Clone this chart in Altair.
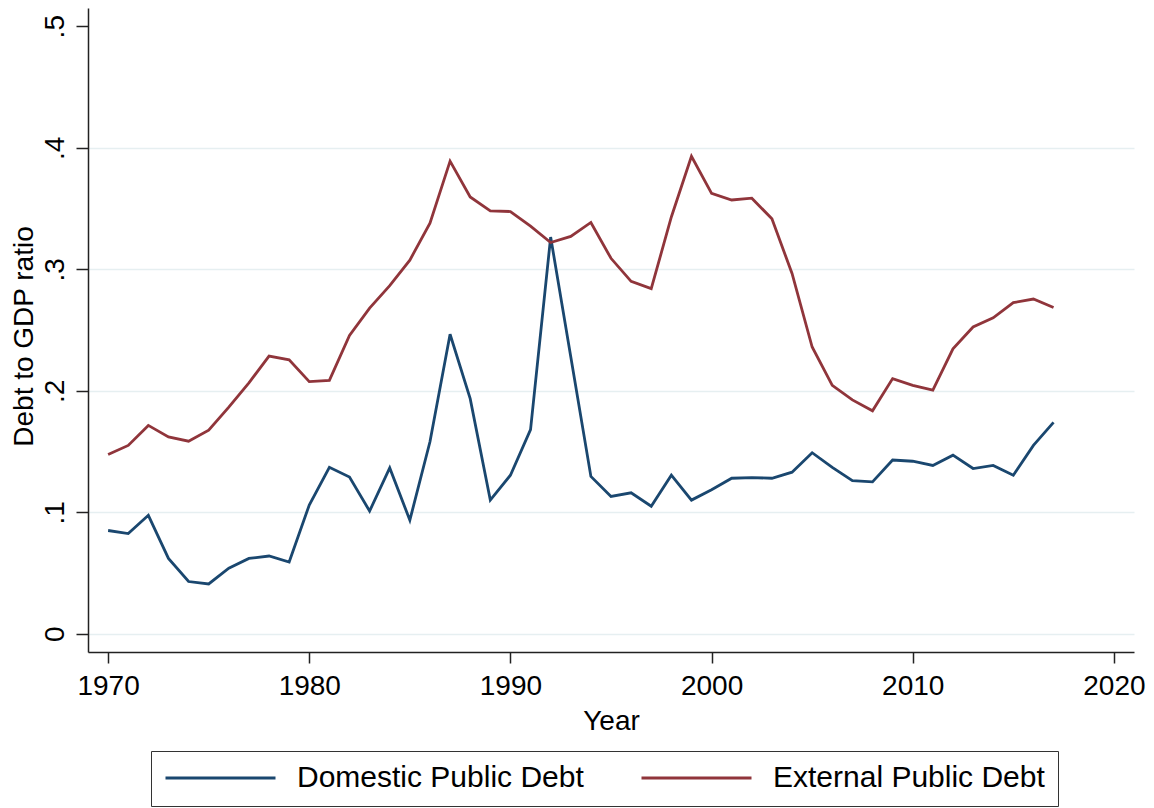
import altair as alt
import pandas as pd

years = list(range(1970, 2018))

domestic = [0.085, 0.0825, 0.0975, 0.062, 0.043, 0.041, 0.054, 0.062, 0.064, 0.059,
            0.106, 0.137, 0.129, 0.101, 0.1365, 0.0935, 0.158, 0.2465, 0.1935, 0.110,
            0.1305, 0.168, 0.3265, 0.228, 0.1295, 0.113, 0.116, 0.105, 0.1305, 0.110,
            0.1185, 0.128, 0.1285, 0.128, 0.133, 0.149, 0.137, 0.126, 0.125, 0.143,
            0.142, 0.1385, 0.147, 0.136, 0.1385, 0.1305, 0.155, 0.174]

external = [0.1475, 0.155, 0.1715, 0.162, 0.1585, 0.1675, 0.1865, 0.2065, 0.2285, 0.2255,
            0.2075, 0.2085, 0.2455, 0.268, 0.2865, 0.3075, 0.338, 0.389, 0.3595, 0.348,
            0.3475, 0.3355, 0.322, 0.327, 0.3385, 0.309, 0.29, 0.284, 0.343, 0.393,
            0.3625, 0.357, 0.3585, 0.3415, 0.2965, 0.236, 0.2045, 0.1925, 0.1835, 0.21,
            0.2045, 0.2005, 0.2345, 0.2525, 0.26, 0.2725, 0.2755, 0.2685]

series = ["Domestic Public Debt", "External Public Debt"]
colors = ["#1a476f", "#90353b"]

x_ticks = [1970, 1980, 1990, 2000, 2010, 2020]
y_ticks = [0, 0.1, 0.2, 0.3, 0.4, 0.5]

df = pd.concat([
    pd.DataFrame({"year": years, "ratio": domestic, "series": series[0]}),
    pd.DataFrame({"year": years, "ratio": external, "series": series[1]}),
])

FONT = "Liberation Sans"

x_scale = alt.Scale(domain=[1969, 2021], nice=False, zero=False)
y_scale = alt.Scale(domain=[-0.015, 0.515], nice=False, zero=False)

# stata-like legend: equal columns, a bit of room after the last label
legend = alt.Legend(title=None, orient="none", legendX=63, legendY=743,
                    columns=2, columnPadding=56, gridAlign="all",
                    symbolType="stroke", symbolSize=12100, symbolStrokeWidth=2.8,
                    labelOffset=20, labelFontSize=30, labelLimit=600, clipHeight=28,
                    labelExpr="datum.label == 'External Public Debt' ? datum.label + '\u2002' : datum.label",
                    padding=13, strokeColor="#333333")

chart = alt.Chart(df).mark_line(strokeWidth=2.8).encode(
    x=alt.X("year:Q", scale=x_scale, title="Year",
            axis=alt.Axis(values=x_ticks, format="d", grid=False,
                          tickSize=11, labelPadding=31, labelBaseline="alphabetic",
                          titleBaseline="alphabetic", titleY=77)),
    y=alt.Y("ratio:Q", scale=y_scale, title="Debt to GDP ratio",
            axis=alt.Axis(values=y_ticks, grid=True, gridColor="#e6eff1", gridWidth=1.5,
                          gridOpacity={"condition": {"test": "datum.value > 0.45", "value": 0}, "value": 1},
                          labelAngle=270,
                          labelExpr="datum.value == 0 ? '0' : replace(format(datum.value, '.1f'), '0.', '.')",
                          labelAlign="center", labelBaseline="alphabetic",
                          tickSize=12, labelPadding=13,
                          titleAngle=270, titleBaseline="alphabetic", titleAlign="center",
                          titleX=-56, titleY=328)),
    color=alt.Color("series:N", scale=alt.Scale(domain=series, range=colors), legend=legend),
).properties(
    width=1046, height=644,
    autosize=alt.AutoSizeParams(type="none"),
    padding={"left": 80, "top": 0, "right": 12, "bottom": 156},
).configure_view(stroke="transparent").configure_axis(
    labelFont=FONT, titleFont=FONT, labelFontSize=28, titleFontSize=28,
    labelColor="black", titleColor="black", titleFontWeight="normal",
    domainColor="#222222", tickColor="#222222", domainWidth=1.5, tickWidth=1.5,
).configure_legend(labelFont=FONT, labelColor="black")

chart.save("out.html", embed_options={"renderer": "svg", "actions": False})
